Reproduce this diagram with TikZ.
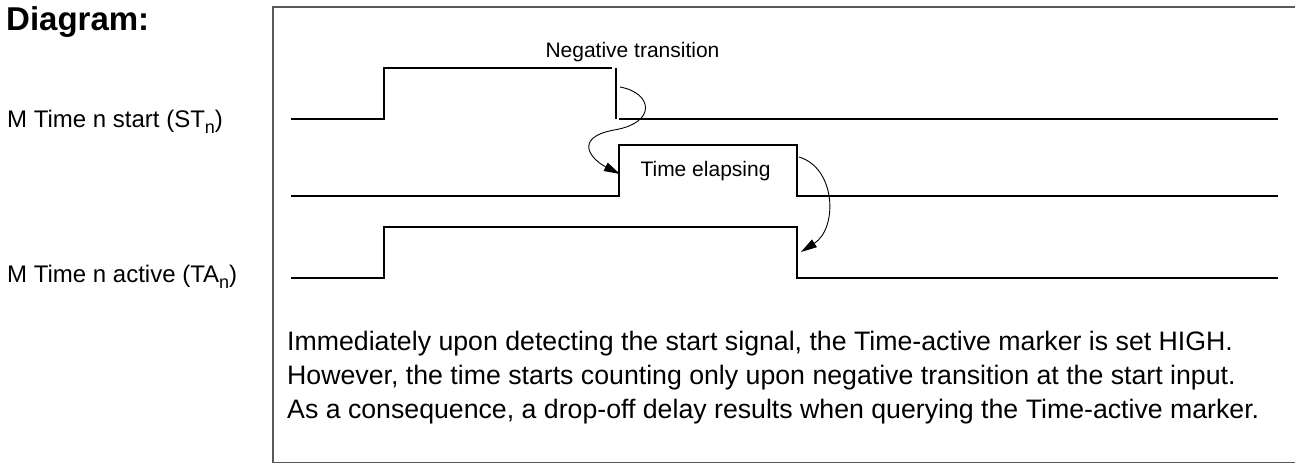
\documentclass[tikz,border=0pt]{standalone}
\usepackage{fontspec}
\setmainfont{Liberation Sans}
\usetikzlibrary{arrows.meta}
\begin{document}
\begin{tikzpicture}[x=1pt,y=-1pt,
  wave/.style={line width=2pt, line join=miter},
  frame/.style={line width=1.4pt, draw=black!65},
  cause/.style={line width=0.9pt, -{Triangle[length=16pt,width=9pt]}},
  txt/.style={inner sep=0pt, anchor=base west, font=\fontsize{26.7}{26.7}\selectfont},
  sig/.style={inner sep=0pt, anchor=base west, font=\fontsize{24}{24}\selectfont},
  note/.style={inner sep=0pt, anchor=base, font=\fontsize{21}{21}\selectfont},
  head/.style={inner sep=0pt, anchor=base west, font=\fontsize{33}{33}\selectfont\bfseries}]
\newcommand{\sigsub}[1]{\raisebox{-0.28em}{\fontsize{18}{18}\selectfont #1}}
\useasboundingbox (0,0) rectangle (1295,464);

% heading and signal names
\node[head] (title) at (6,30) {Diagram:};
\node[sig] (lblst) at (7,127) {M Time n start (ST\sigsub{n})};
\node[sig] (lblta) at (7,282) {M Time n active (TA\sigsub{n})};

% open frame around the timing chart
\draw[frame] (1295,7) -- (273,7) -- (273,462.5) -- (1295,462.5);

% start input ST
\draw[wave] (291,119) -- (384,119) -- (384,68) -- (612,68);
\draw[wave] (616,68) -- (616,119);
\draw[wave] (619,119) -- (1278,119);

% internal timer
\draw[wave] (291,196) -- (619,196) -- (619,145) -- (797,145) -- (797,196) -- (1278,196);

% time-active marker TA
\draw[wave] (291,278) -- (384,278) -- (384,227) -- (797,227) -- (797,278) -- (1278,278);

% labels on the chart
\node[note] (negtr) at (632.5,57) {Negative transition};
\node[note] (elaps) at (705.5,176) {Time elapsing};

% cause arrows
\coordinate (fall) at (620,87);
\coordinate (mid) at (614,130);
\coordinate (rise) at (620,174);
\coordinate (tend) at (799,157);
\coordinate (tafall) at (801,252);
\draw[cause] (fall) .. controls (653,93) and (657,123) .. (mid)
             .. controls (572,138) and (592,160) .. (rise);
\draw[cause] (tend) .. controls (836,168) and (838,228) .. (tafall);

% explanation
\node[txt] (line1) at (287,350) {Immediately upon detecting the start signal, the Time-active marker is set HIGH.};
\node[txt] (line2) at (287,384) {However, the time starts counting only upon negative transition at the start input.};
\node[txt] (line3) at (287,418) {As a consequence, a drop-off delay results when querying the Time-active marker.};
\end{tikzpicture}
\end{document}
